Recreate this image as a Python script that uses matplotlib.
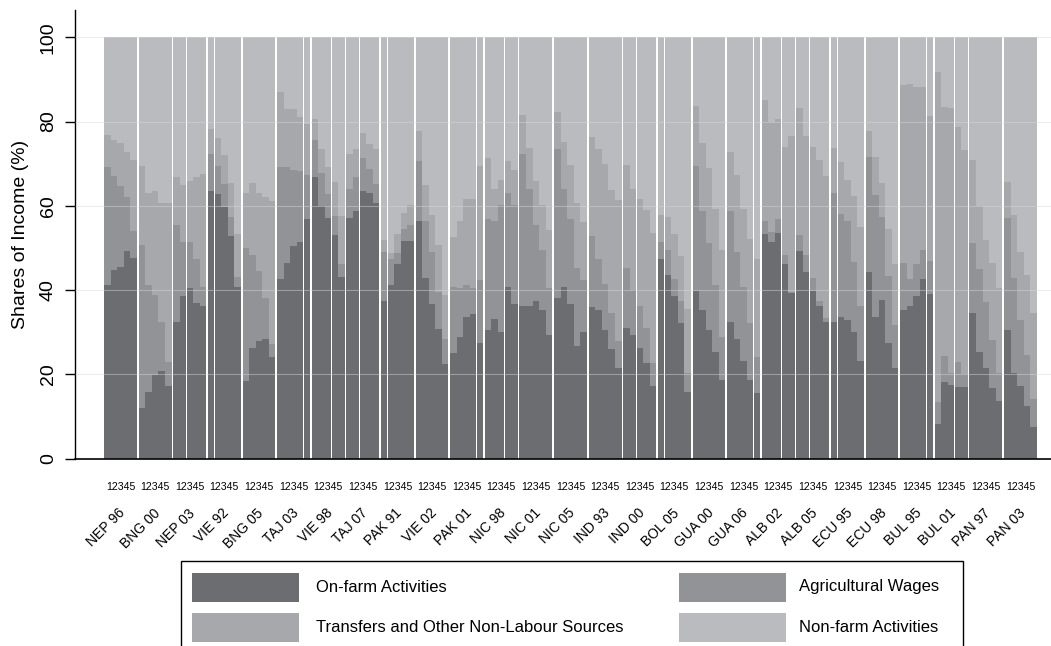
"""Stacked income-share bars by expenditure quintile for 27 country surveys."""

import numpy as np
import matplotlib

matplotlib.use("Agg")
import matplotlib.pyplot as plt
from matplotlib.patches import Rectangle
from matplotlib.transforms import blended_transform_factory

plt.rcParams["font.family"] = ["Liberation Sans", "DejaVu Sans"]

surveys = [
    "NEP 96", "BNG 00", "NEP 03", "VIE 92", "BNG 05", "TAJ 03", "VIE 98",
    "TAJ 07", "PAK 91", "VIE 02", "PAK 01", "NIC 98", "NIC 01", "NIC 05",
    "IND 93", "IND 00", "BOL 05", "GUA 00", "GUA 06", "ALB 02", "ALB 05",
    "ECU 95", "ECU 98", "BUL 95", "BUL 01", "PAN 97", "PAN 03",
]
quintile_label = "12345"

# shares of income (%) per survey, quintiles 1..5
onfarm = [
    [41.3, 44.8, 45.4, 49.2, 47.6], [12.1, 15.9, 19.8, 20.7, 17.2],
    [32.3, 38.5, 40.4, 37.0, 36.1], [63.4, 62.9, 59.7, 52.8, 40.6],
    [18.3, 26.2, 28.0, 28.3, 24.0], [42.5, 46.3, 50.4, 51.4, 56.9],
    [66.9, 60.0, 57.2, 53.1, 43.1], [57.2, 58.8, 63.4, 63.1, 60.7],
    [37.5, 41.3, 46.1, 51.6, 51.6], [56.5, 42.9, 36.7, 30.8, 22.4],
    [25.0, 28.9, 33.7, 34.3, 27.4], [30.5, 33.1, 30.1, 40.7, 36.7],
    [36.1, 36.1, 37.3, 35.3, 29.3], [38.1, 40.8, 36.6, 26.8, 30.1],
    [35.9, 35.3, 30.6, 25.9, 21.6], [30.9, 29.3, 26.2, 22.6, 17.1],
    [47.3, 43.5, 38.5, 32.2, 15.9], [39.7, 35.3, 30.6, 25.2, 18.7],
    [32.5, 28.4, 23.1, 18.6, 15.5], [53.2, 51.5, 53.5, 46.1, 39.3],
    [49.2, 44.3, 39.7, 36.1, 32.4], [32.5, 33.5, 32.8, 30.0, 23.2],
    [44.3, 33.7, 37.7, 27.4, 21.6], [35.3, 36.3, 38.5, 42.7, 39.1],
    [8.3, 18.1, 17.4, 17.0, 16.9], [34.6, 25.4, 21.4, 16.7, 13.7],
    [30.6, 20.2, 17.1, 12.5, 7.5],
]
agwages = [
    [27.9, 22.3, 19.2, 12.9, 6.3], [38.5, 25.2, 19.1, 11.6, 5.8],
    [23.1, 12.8, 11.1, 10.3, 4.5], [8.8, 6.6, 5.4, 4.5, 2.5],
    [31.7, 22.0, 16.5, 9.8, 3.2], [26.7, 22.8, 18.2, 16.9, 10.3],
    [8.7, 7.9, 5.5, 4.5, 3.1], [6.7, 8.1, 8.0, 5.6, 4.4],
    [11.5, 6.0, 2.8, 2.8, 3.8], [14.1, 13.6, 12.3, 8.7, 6.0],
    [15.8, 11.5, 7.5, 6.1, 15.0], [26.3, 23.2, 30.2, 22.4, 23.6],
    [36.3, 27.8, 18.1, 14.3, 11.1], [35.3, 23.3, 20.3, 18.4, 12.3],
    [16.9, 12.1, 10.9, 8.7, 6.4], [14.4, 10.6, 9.9, 8.3, 5.5],
    [4.2, 5.9, 4.2, 5.3, 4.3], [29.7, 23.4, 20.6, 16.0, 10.2],
    [26.2, 20.6, 17.7, 13.5, 8.5], [3.2, 2.3, 3.3, 2.1, 0.2],
    [3.8, 3.9, 3.1, 1.4, 0.9], [30.6, 24.5, 23.5, 16.6, 13.1],
    [27.3, 28.9, 19.6, 15.9, 10.0], [11.1, 6.4, 7.7, 6.9, 7.8],
    [5.0, 6.2, 2.9, 5.8, 3.2], [16.6, 19.5, 15.7, 11.5, 6.5],
    [26.6, 22.7, 15.9, 12.1, 6.6],
]
transfers = [
    [7.6, 8.5, 10.2, 10.7, 16.9], [18.8, 21.9, 24.5, 28.4, 37.7],
    [11.5, 13.6, 14.4, 19.5, 27.0], [6.1, 6.7, 6.9, 8.0, 10.3],
    [13.1, 17.2, 18.6, 24.0, 33.9], [17.9, 13.9, 14.3, 12.7, 12.3],
    [5.0, 5.5, 6.5, 8.0, 11.4], [8.3, 6.5, 5.9, 5.9, 8.3],
    [2.8, 1.6, 4.5, 4.0, 4.9], [7.2, 8.5, 8.7, 11.1, 10.3],
    [11.9, 16.0, 20.3, 21.1, 27.0], [14.6, 7.8, 5.8, 7.6, 8.1],
    [9.1, 9.7, 10.5, 10.7, 13.9], [8.8, 11.1, 12.7, 15.5, 13.7],
    [23.6, 26.0, 28.5, 29.2, 33.3], [24.3, 24.0, 25.6, 28.0, 30.9],
    [6.2, 7.9, 10.5, 10.5, 15.3], [14.3, 16.3, 17.8, 18.0, 20.7],
    [14.1, 18.2, 18.4, 19.9, 23.4], [28.7, 26.1, 23.9, 25.8, 37.0],
    [30.3, 28.3, 31.2, 33.3, 33.8], [10.7, 12.4, 9.8, 15.7, 18.7],
    [6.2, 9.0, 8.1, 11.3, 14.6], [42.3, 46.2, 42.1, 38.7, 34.4],
    [78.4, 59.2, 63.0, 55.8, 53.1], [19.6, 15.1, 14.8, 18.2, 20.3],
    [8.5, 15.0, 16.0, 18.9, 20.5],
]
nonfarm = [
    [23.2, 24.4, 25.2, 27.2, 29.2], [30.6, 37.0, 36.6, 39.3, 39.3],
    [33.1, 35.1, 34.1, 33.2, 32.4], [21.7, 23.8, 28.0, 34.7, 46.6],
    [36.9, 34.6, 36.9, 37.9, 38.9], [12.9, 17.0, 17.1, 19.0, 20.5],
    [19.4, 26.6, 30.8, 34.4, 42.4], [27.8, 26.6, 22.7, 25.4, 26.6],
    [48.2, 51.1, 46.6, 41.6, 39.7], [22.2, 35.0, 42.3, 49.4, 61.3],
    [47.3, 43.6, 38.5, 38.5, 30.6], [28.6, 35.9, 33.9, 29.3, 31.6],
    [18.5, 26.4, 34.1, 39.7, 45.7], [17.8, 24.8, 30.4, 39.3, 43.9],
    [23.6, 26.6, 30.0, 36.2, 38.7], [30.4, 36.1, 38.3, 41.1, 46.5],
    [42.3, 42.7, 46.8, 52.0, 64.5], [16.3, 25.0, 31.0, 40.8, 50.4],
    [27.2, 32.8, 40.8, 48.0, 52.6], [14.9, 20.1, 19.3, 26.0, 23.5],
    [16.7, 23.5, 26.0, 29.2, 32.9], [26.2, 29.6, 33.9, 37.7, 45.0],
    [22.2, 28.4, 34.6, 45.4, 53.8], [11.3, 11.1, 11.7, 11.7, 18.7],
    [8.3, 16.5, 16.7, 21.4, 26.8], [29.2, 40.0, 48.1, 53.6, 59.5],
    [34.3, 42.1, 51.0, 56.5, 65.4],
]

sources = [
    ("On-farm Activities", onfarm, "#6c6d71"),
    ("Agricultural Wages", agwages, "#929397"),
    ("Transfers and Other Non-Labour Sources", transfers, "#a7a8ac"),
    ("Non-farm Activities", nonfarm, "#babbbf"),
]

W, H = 1051, 646
fig = plt.figure(figsize=(W / 100, H / 100), dpi=100)
ax_left, ax_bottom, ax_top = 75, 458.5, 10
ax = fig.add_axes([ax_left / W, (H - ax_bottom) / H, 1 - ax_left / W, (ax_bottom - ax_top) / H])

n_q = 5
gap = 0.25
n_groups = len(surveys)
x = np.array([g * (n_q + gap) + q + 0.5 for g in range(n_groups) for q in range(n_q)])
group_centers = np.array([g * (n_q + gap) + n_q / 2 for g in range(n_groups)])

bottom = np.zeros(len(x))
for label, vals, color in sources:
    v = np.asarray(vals, dtype=float).ravel()
    ax.bar(x, v, width=0.975, bottom=bottom, color=color, linewidth=0, zorder=2)
    bottom += v

# pixel geometry of the reference: bars run from 104px to 1037px
first_px, last_px = 104, 1037
span = n_groups * (n_q + gap) - gap
unit = (last_px - first_px) / span
ax.set_xlim(-(first_px - ax_left) / unit, span + (W - last_px) / unit)
ax.set_ylim(0, 100 + (37.3 - ax_top) / 4.212)

ax.set_yticks(range(0, 101, 20))
ax.set_yticklabels([str(v) for v in range(0, 101, 20)], rotation=90, va="center", fontsize=14)
ax.tick_params(axis="y", length=7, width=1, pad=6)
ax.set_ylabel("Shares of Income (%)", fontsize=14, labelpad=8)

ax.set_xticks(group_centers)
ax.set_xticklabels([quintile_label] * n_groups, fontsize=7.6)
ax.tick_params(axis="x", length=0, pad=17)

trans = blended_transform_factory(ax.transData, ax.transAxes)
label_y = -(511 - ax_bottom) / (ax_bottom - ax_top)
for gc, name in zip(group_centers, surveys):
    ax.text(gc + 0.4, label_y, name, transform=trans, rotation=45, rotation_mode="anchor",
            ha="right", va="center", fontsize=10)

ax.yaxis.grid(True, color="#d8d8d8", alpha=0.45, linewidth=0.8)
ax.set_axisbelow(False)
for side in ("top", "right"):
    ax.spines[side].set_visible(False)
ax.spines["bottom"].set_linewidth(1.2)
ax.spines["left"].set_linewidth(1.0)


# legend box drawn in figure pixels
def fx(px):
    return px / W


def fy(py):
    return (H - py) / H


fig.add_artist(Rectangle((fx(181), fy(660)), fx(963) - fx(181), fy(561) - fy(660),
                         transform=fig.transFigure, fill=False, edgecolor="black", linewidth=1.0))
cols = [(192, 316), (679, 799)]
rows = [587, 627]
for i, (label, _, color) in enumerate(sources):
    (px0, tx), cy = cols[i % 2], rows[i // 2]
    fig.add_artist(Rectangle((fx(px0), fy(cy + 14.5)), fx(107), fy(0) - fy(29),
                             transform=fig.transFigure, facecolor=color, edgecolor="none"))
    fig.text(fx(tx), fy(cy), label, ha="left", va="center", fontsize=12)

fig.savefig("out.png", dpi=100)
